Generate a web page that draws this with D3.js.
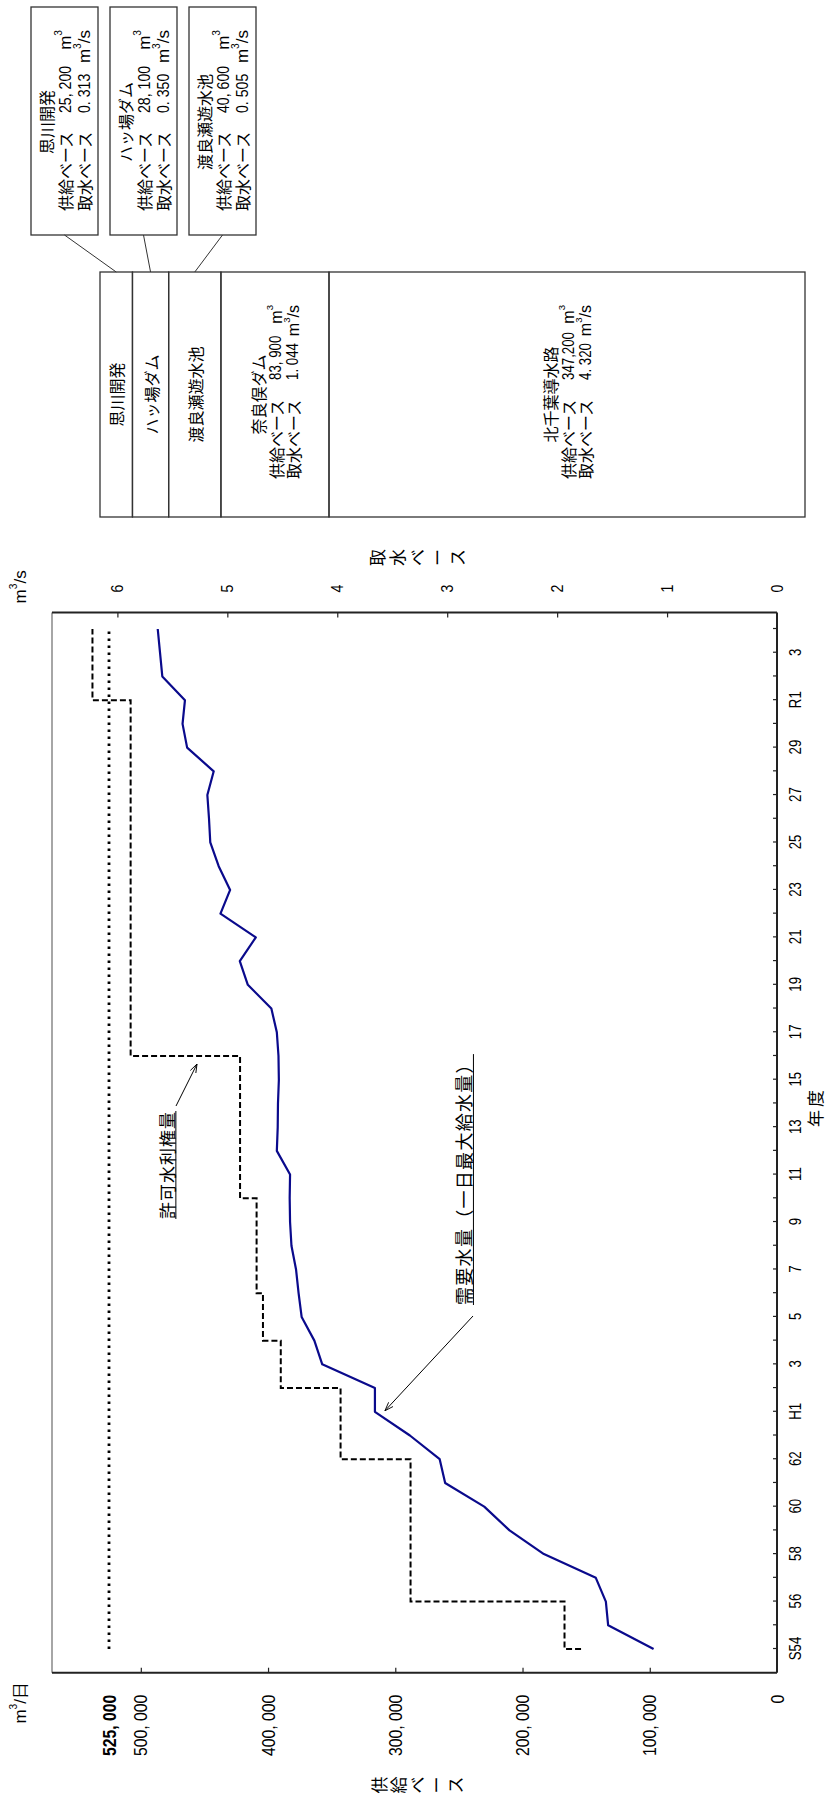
<!DOCTYPE html>
<html>
<head>
<meta charset="utf-8">
<script src="https://cdn.jsdelivr.net/npm/d3@7"></script>
<style>
  body { margin: 0; background: #fff; }
  svg { display: block; }
  .num { font-family: "Liberation Sans", Arial, sans-serif; }
  .jp { font-family: "Noto Sans CJK JP", "Noto Sans", sans-serif; }
</style>
</head>
<body>
<div id="chart"></div>
<script>
// 年度 (S54 = 1979 ... R4 = 2022)
const demandYears = [1979, 1980, 1981, 1982, 1983, 1984, 1985, 1986, 1987, 1988,
  1989, 1990, 1991, 1992, 1993, 1994, 1995, 1996, 1997, 1998, 1999, 2000, 2001,
  2002, 2003, 2004, 2005, 2006, 2007, 2008, 2009, 2010, 2011, 2012, 2013, 2014,
  2015, 2016, 2017, 2018, 2019, 2020, 2021, 2022];
// 需要水量（一日最大給水量） m3/日
const demandValues = [97000, 132700, 134500, 142400, 183200, 210200, 230100, 260800,
  265100, 288500, 316000, 316000, 357400, 363600, 373600, 376000, 378000, 381600,
  382700, 383000, 382700, 393100, 392400, 392200, 391500, 391800, 393100, 397400,
  415900, 422200, 409600, 437400, 429800, 438800, 445400, 446400, 447700, 442700,
  463600, 467200, 465300, 483100, 484900, 486700];
// 許可水利権量 (step changes) m3/日
const permitYears = [1979, 1979, 1981, 1987, 1990, 1992, 1994, 1998, 2004, 2019];
const permitValues = [154000, 167000, 288000, 343000, 390000, 404000, 409000, 422000, 508000, 538000];

// 水源
const sources = ['北千葉導水路', '奈良俣ダム', '渡良瀬遊水池', 'ハッ場ダム', '思川開発'];
const sourceSupply = [347200, 83900, 40600, 28100, 25200];
const sourceIntake = [4.320, 1.044, 0.505, 0.350, 0.313];

// axis labels
const labelYears = [1979, 1981, 1983, 1985, 1987, 1989, 1991, 1993, 1995, 1997, 1999,
  2001, 2003, 2005, 2007, 2009, 2011, 2013, 2015, 2017, 2019, 2021];
const yearLabels = ['S54', '56', '58', '60', '62', 'H1', '3', '5', '7', '9', '11',
  '13', '15', '17', '19', '21', '23', '25', '27', '29', 'R1', '3'];
const supplyTicks = [0, 100000, 200000, 300000, 400000, 500000, 525000];
const intakeTicks = [0, 1, 2, 3, 4, 5, 6];

const W = 829, H = 1805;
const total = d3.sum(sourceSupply);   // 525,000
const NARROW = 0.83;

const svg = d3.select('#chart').append('svg')
  .attr('width', W).attr('height', H)
  .attr('viewBox', [0, 0, W, H]);

// whole figure is drawn upright and turned a quarter turn
const g = svg.append('g').attr('transform', `translate(0,${H}) rotate(-90)`);

const x = d3.scaleLinear().domain([1979, 2022]).range([156, 1176]);
const y = d3.scaleLinear().domain([0, total]).range([777, 109]);
const y2 = d3.scaleLinear().domain([0, total / 86400]).range([777, 109]);

const plotL = x(1978), plotR = x(2022.7), plotT = 52, plotB = 777;

// squeeze digits to look like the narrow face of the original
function condense(sel) {
  sel.each(function () {
    const len = this.getComputedTextLength();
    if (len > 0) d3.select(this).attr('textLength', len * NARROW).attr('lengthAdjust', 'spacingAndGlyphs');
  });
}

// arrow marker
svg.append('defs').append('marker')
  .attr('id', 'arr').attr('viewBox', '0 -4 10 8')
  .attr('refX', 10).attr('refY', 0)
  .attr('markerWidth', 9).attr('markerHeight', 7)
  .attr('markerUnits', 'userSpaceOnUse').attr('orient', 'auto')
  .append('path').attr('d', 'M0,-3.5L10,0L0,3.5')
  .attr('fill', 'none').attr('stroke', '#000').attr('stroke-width', 1);

// frame
g.append('line').attr('x1', plotL).attr('x2', plotR).attr('y1', plotT).attr('y2', plotT)
  .attr('stroke', '#888').attr('stroke-width', 1.5);
[[plotL, plotT, plotL, plotB], [plotR, plotT, plotR, plotB], [plotL, plotB, plotR, plotB]]
  .forEach(([a, b, c, d]) => g.append('line')
    .attr('x1', a).attr('y1', b).attr('x2', c).attr('y2', d)
    .attr('stroke', '#222').attr('stroke-width', 2));

// 供給ベース axis
const fmtSupply = v => d3.format(',')(v).replace(',', v >= 100000 ? ',' : ', ');
const leftAx = g.append('g').attr('transform', `translate(${plotL},0)`)
  .call(d3.axisLeft(y).tickValues(supplyTicks).tickSizeInner(-5).tickSizeOuter(0)
    .tickPadding(22).tickFormat(v => d3.format(',')(v).replace(',', ', ')))
  .attr('font-size', null).attr('font-family', null);
leftAx.select('.domain').remove();
leftAx.selectAll('.tick').filter(d => d === 0 || d === total).select('line').remove();
leftAx.selectAll('.tick line').attr('stroke', '#222').attr('stroke-width', 1.2);
leftAx.selectAll('.tick text').attr('class', 'num').attr('font-size', 19).attr('fill', '#000')
  .attr('font-weight', d => d === total ? 'bold' : null).call(condense);

// 取水ベース axis
const rightAx = g.append('g').attr('transform', `translate(${plotR},0)`)
  .call(d3.axisRight(y2).tickValues(intakeTicks).tickSizeInner(-5).tickSizeOuter(0)
    .tickPadding(20).tickFormat(d3.format('d')))
  .attr('font-size', null).attr('font-family', null);
rightAx.select('.domain').remove();
rightAx.selectAll('.tick').filter(d => d === 0).select('line').remove();
rightAx.selectAll('.tick line').attr('stroke', '#222').attr('stroke-width', 1.2);
rightAx.selectAll('.tick text').attr('class', 'num').attr('font-size', 17).attr('fill', '#000').call(condense);

// 年度 axis
const bottomAx = g.append('g').attr('transform', `translate(0,${plotB})`)
  .call(d3.axisBottom(x).tickValues(demandYears).tickSizeInner(-4).tickSizeOuter(0)
    .tickPadding(13).tickFormat(d => {
      const i = labelYears.indexOf(d);
      return i < 0 ? '' : yearLabels[i];
    }))
  .attr('font-size', null).attr('font-family', null);
bottomAx.select('.domain').remove();
bottomAx.selectAll('.tick line').attr('stroke', '#222').attr('stroke-width', 1.2);
bottomAx.selectAll('.tick text').attr('class', 'num').attr('font-size', 16).attr('fill', '#000').call(condense);

// axis titles
function unitText(sel, tail) {
  sel.append('tspan').text('m');
  sel.append('tspan').attr('dy', -7).attr('font-size', '0.6em').text('3');
  sel.append('tspan').attr('dy', 7).text(tail);
}
unitText(g.append('text').attr('class', 'num').attr('x', 123).attr('y', 20)
  .attr('text-anchor', 'end').attr('dominant-baseline', 'central').attr('font-size', 17), '/日');
unitText(g.append('text').attr('class', 'num').attr('x', plotR + 9).attr('y', 20)
  .attr('dominant-baseline', 'central').attr('font-size', 17), '/s');

function stackedChars(str, u, vCenter, step, size) {
  const chars = Array.from(str);
  g.append('g').selectAll('text').data(chars).join('text')
    .attr('class', 'jp').attr('font-size', size)
    .attr('x', u).attr('y', (d, i) => vCenter + (i - (chars.length - 1) / 2) * step)
    .attr('text-anchor', 'middle').attr('dominant-baseline', 'central')
    .text(d => d);
}
stackedChars('供給ベース', 20, (plotT + plotB) / 2 + 2, 19, 17);
stackedChars('取水ベース', plotR + 55, (plotT + plotB) / 2 + 2, 20, 17);

g.append('text').attr('class', 'jp').attr('x', 698).attr('y', 814)
  .attr('text-anchor', 'middle').attr('dominant-baseline', 'central')
  .attr('font-size', 17).attr('letter-spacing', 3).text('年度');

// capacity (525,000) dotted
g.append('path')
  .datum([[demandYears[0], total], [demandYears[demandYears.length - 1], total]])
  .attr('d', d3.line().x(d => x(d[0])).y(d => y(d[1])))
  .attr('fill', 'none').attr('stroke', '#000').attr('stroke-width', 2.8)
  .attr('stroke-dasharray', '2.6 4.4');

// 許可水利権量 dashed step
const permitPts = permitYears.map((yr, i) => [yr, permitValues[i]])
  .concat([[demandYears[demandYears.length - 1], permitValues[permitValues.length - 1]]]);
g.append('path').datum(permitPts)
  .attr('d', d3.line().curve(d3.curveStepAfter).x(d => x(d[0])).y(d => y(d[1])))
  .attr('fill', 'none').attr('stroke', '#000').attr('stroke-width', 2)
  .attr('stroke-dasharray', '6 3');

// 需要水量 line
g.append('path').datum(demandYears.map((yr, i) => [yr, demandValues[i]]))
  .attr('d', d3.line().x(d => x(d[0])).y(d => y(d[1])))
  .attr('fill', 'none').attr('stroke', '#0a0a8c').attr('stroke-width', 2.2)
  .attr('stroke-linejoin', 'round');

// annotations
function note(str, u, v, size, spacing, from, to) {
  const t = g.append('text').attr('class', 'jp').attr('x', u).attr('y', v)
    .attr('dominant-baseline', 'central').attr('font-size', size)
    .attr('letter-spacing', spacing).text(str);
  const len = t.node().getComputedTextLength();
  g.append('line').attr('x1', u).attr('x2', u + len).attr('y1', v + size * 0.58).attr('y2', v + size * 0.58)
    .attr('stroke', '#000').attr('stroke-width', 1);
  g.append('line').attr('x1', from[0]).attr('y1', from[1]).attr('x2', to[0]).attr('y2', to[1])
    .attr('stroke', '#000').attr('stroke-width', 1).attr('marker-end', 'url(#arr)');
}
note('許可水利権量', 586, 166, 17, 1, [699, 176], [741, 197]);
const iH1 = demandYears.indexOf(1989);
note('需要水量（一日最大給水量）', 500, 463, 18, 1.3, [489, 473],
  [x(demandYears[iH1]) + 1, y(demandValues[iH1]) + 10]);

// supply stack (box) - drawn wider than the value axis, as in the original
const stackY = d3.scaleLinear().domain([0, sourceSupply[0], total]).range([805, 329, 100]);
const boxU0 = 1288, boxU1 = 1533, boxMid = (boxU0 + boxU1) / 2;
let acc = 0;
const segs = sources.map((name, i) => {
  const s = { name, supply: sourceSupply[i], intake: sourceIntake[i], y0: acc, y1: acc + sourceSupply[i] };
  acc += sourceSupply[i];
  return s;
});
const fmtIntake = v => d3.format('.3f')(v).replace('.', '. ');

const box = g.append('g');
box.selectAll('rect').data(segs).join('rect')
  .attr('x', boxU0).attr('width', boxU1 - boxU0)
  .attr('y', d => stackY(d.y1)).attr('height', d => stackY(d.y0) - stackY(d.y1))
  .attr('fill', 'none').attr('stroke', '#333').attr('stroke-width', 1.3);

function detail(parent, vc, d, uLabel, uValue, uUnitEnd, size, numSize, gap) {
  const rows = [['供給ベース', fmtSupply(d.supply), ''], ['取水ベース', fmtIntake(d.intake), '/s']];
  rows.forEach(([lab, val, tail], r) => {
    const v = vc + r * gap;
    parent.append('text').attr('class', 'jp').attr('x', uLabel).attr('y', v)
      .attr('dominant-baseline', 'central').attr('font-size', size).text(lab);
    parent.append('text').attr('class', 'num').attr('x', uValue).attr('y', v)
      .attr('dominant-baseline', 'central').attr('font-size', numSize).text(val).call(condense);
    unitText(parent.append('text').attr('class', 'num').attr('x', uUnitEnd).attr('y', v)
      .attr('text-anchor', 'end').attr('dominant-baseline', 'central').attr('font-size', numSize), tail);
  });
}

segs.forEach(d => {
  const vc = (stackY(d.y0) + stackY(d.y1)) / 2;
  const big = stackY(d.y0) - stackY(d.y1) > 60;
  box.append('text').attr('class', 'jp').attr('x', boxMid).attr('y', big ? vc - 17 : vc)
    .attr('text-anchor', 'middle').attr('dominant-baseline', 'central')
    .attr('font-size', 16).text(d.name);
  if (big) detail(box, vc + 1, d, 1326, 1425, 1500, 16, 16, 17);
});

// callouts for the thin layers
const small = segs.filter(d => stackY(d.y0) - stackY(d.y1) <= 60).reverse();
const cU0 = 1570, cU1 = 1798;
small.forEach((d, k) => {
  const v0 = 31 + k * 79, v1 = v0 + 67, vc = (v0 + v1) / 2;
  const c = g.append('g');
  c.append('rect').attr('x', cU0).attr('y', v0).attr('width', cU1 - cU0).attr('height', v1 - v0)
    .attr('fill', 'none').attr('stroke', '#333').attr('stroke-width', 1.3);
  c.append('line').attr('x1', cU0).attr('y1', vc)
    .attr('x2', boxU1).attr('y2', (stackY(d.y0) + stackY(d.y1)) / 2)
    .attr('stroke', '#333').attr('stroke-width', 1);
  c.append('text').attr('class', 'jp').attr('x', 1683).attr('y', vc - 19)
    .attr('text-anchor', 'middle').attr('dominant-baseline', 'central')
    .attr('font-size', 16).text(d.name);
  detail(c, vc + 0.5, d, 1594, 1692, 1775, 16, 17, 19);
});
</script>
</body>
</html>
